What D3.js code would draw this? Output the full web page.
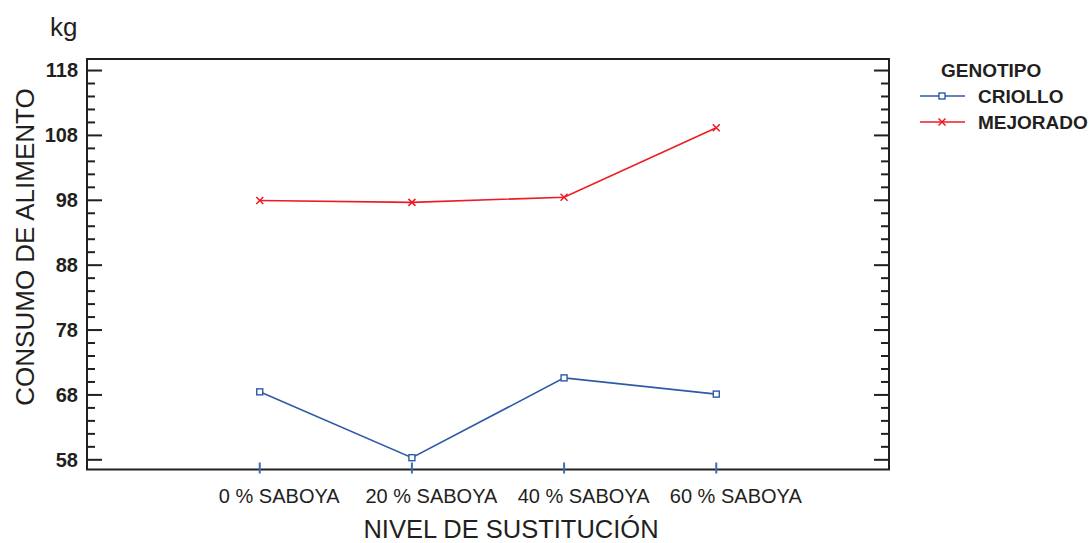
<!DOCTYPE html>
<html>
<head>
<meta charset="utf-8">
<script src="https://cdn.jsdelivr.net/npm/d3@7"></script>
<style>
  html, body { margin: 0; padding: 0; background: #fff; }
  svg text { fill: #231f20; }
</style>
</head>
<body>
<svg id="chart" width="1089" height="543"></svg>
<script>
// Niveles de sustitución (eje X)
const categories = ["0 % SABOYA", "20 % SABOYA", "40 % SABOYA", "60 % SABOYA"];
// Consumo de alimento (kg) por genotipo
const criollo  = [68.4, 58.25, 70.55, 68.05];
const mejorado = [97.9, 97.6, 98.4, 109.1];
// Ticks del eje Y
const yTicksMajor = [58, 68, 78, 88, 98, 108, 118];
const yTicksMinor = d3.range(58, 119, 2).filter(v => (v - 58) % 10 !== 0);

const seriesNames = ["CRIOLLO", "MEJORADO"];
const colors = { CRIOLLO: "#2d5aa8", MEJORADO: "#ec1c24" };
const frameColor = "#231f20";

const plotL = 87, plotR = 889, plotT = 59, plotB = 469.5;

const svg = d3.select("#chart");

const x = d3.scalePoint().domain(categories).range([plotL, plotR]).padding(1.135);
const y = d3.scaleLinear().domain([56.43, 119.7]).range([plotB, plotT]);

// Marco del gráfico
svg.append("rect")
  .attr("x", plotL).attr("y", plotT)
  .attr("width", plotR - plotL).attr("height", plotB - plotT)
  .attr("fill", "none").attr("stroke", frameColor).attr("stroke-width", 2);

// Eje Y izquierdo
const yLeft = svg.append("g").attr("transform", `translate(${plotL},0)`);
yLeft.call(d3.axisRight(y).tickValues(yTicksMajor).tickSize(15).tickFormat(""))
  .call(g => g.select(".domain").remove())
  .call(g => g.selectAll("line").attr("stroke", frameColor).attr("stroke-width", 2));
yLeft.append("g").call(d3.axisRight(y).tickValues(yTicksMinor).tickSize(8).tickFormat(""))
  .call(g => g.select(".domain").remove())
  .call(g => g.selectAll("line").attr("stroke", frameColor).attr("stroke-width", 2));
yLeft.selectAll(".ylab").data(yTicksMajor).join("text")
  .attr("class", "ylab")
  .attr("x", -9).attr("y", d => y(d))
  .attr("dy", "0.36em")
  .attr("text-anchor", "end")
  .style("font-family", "'Liberation Sans Narrow', 'Arial Narrow', 'Liberation Sans', sans-serif")
  .style("font-weight", "bold")
  .style("font-size", "20px")
  .text(d => d);

// Eje Y derecho (solo marcas)
const yRight = svg.append("g").attr("transform", `translate(${plotR},0)`);
yRight.call(d3.axisLeft(y).tickValues(yTicksMajor).tickSize(15).tickFormat(""))
  .call(g => g.select(".domain").remove())
  .call(g => g.selectAll("line").attr("stroke", frameColor).attr("stroke-width", 2));
yRight.append("g").call(d3.axisLeft(y).tickValues(yTicksMinor).tickSize(8).tickFormat(""))
  .call(g => g.select(".domain").remove())
  .call(g => g.selectAll("line").attr("stroke", frameColor).attr("stroke-width", 2));

// Eje X (etiquetas desplazadas a la derecha de cada marca)
const xAxis = svg.append("g").attr("transform", `translate(0,${plotB})`);
xAxis.call(d3.axisBottom(x).tickSize(0).tickPadding(19))
  .call(g => g.select(".domain").remove())
  .call(g => g.selectAll("text")
    .attr("dx", 19)
    .style("font-family", "'Liberation Sans', Arial, sans-serif")
    .style("font-size", "20px")
    .attr("fill", "#231f20"));
xAxis.selectAll(".xtick").data(categories).join("line")
  .attr("class", "xtick")
  .attr("x1", d => x(d)).attr("x2", d => x(d))
  .attr("y1", -7).attr("y2", 4)
  .attr("stroke", "#3d6db5").attr("stroke-width", 2);

// Títulos de ejes
svg.append("text")
  .attr("x", 511).attr("y", 538)
  .attr("text-anchor", "middle")
  .style("font-family", "'Liberation Sans', Arial, sans-serif")
  .style("font-size", "25.5px")
  .text("NIVEL DE SUSTITUCIÓN");

svg.append("text")
  .attr("transform", "translate(34,247) rotate(-90)")
  .attr("text-anchor", "middle")
  .style("font-family", "'Liberation Sans', Arial, sans-serif")
  .style("font-size", "26px")
  .text("CONSUMO DE ALIMENTO");

svg.append("text")
  .attr("x", 50).attr("y", 36)
  .style("font-family", "'Liberation Sans', Arial, sans-serif")
  .style("font-size", "26px")
  .text("kg");

// Series
const data = { CRIOLLO: criollo, MEJORADO: mejorado };
const line = d3.line().x((d, i) => x(categories[i])).y(d => y(d));

function drawMarker(g, name, cx, cy) {
  if (name === "CRIOLLO") {
    g.append("rect")
      .attr("x", cx - 3).attr("y", cy - 3)
      .attr("width", 6).attr("height", 6)
      .attr("fill", "#fff").attr("stroke", colors[name]).attr("stroke-width", 1.4);
  } else {
    g.append("path")
      .attr("d", `M${cx - 3.5},${cy - 3.5}L${cx + 3.5},${cy + 3.5}M${cx - 3.5},${cy + 3.5}L${cx + 3.5},${cy - 3.5}`)
      .attr("stroke", colors[name]).attr("stroke-width", 1.5).attr("fill", "none");
  }
}

seriesNames.forEach(name => {
  const g = svg.append("g");
  g.append("path")
    .datum(data[name])
    .attr("d", line)
    .attr("fill", "none")
    .attr("stroke", colors[name])
    .attr("stroke-width", 1.6);
  data[name].forEach((v, i) => drawMarker(g, name, x(categories[i]), y(v)));
});

// Leyenda
const legend = svg.append("g");
legend.append("text")
  .attr("x", 941).attr("y", 77)
  .style("font-family", "'Liberation Sans Narrow', 'Arial Narrow', 'Liberation Sans', sans-serif")
  .style("font-weight", "bold")
  .style("font-size", "19px")
  .text("GENOTIPO");
seriesNames.forEach((name, i) => {
  const ly = 96 + i * 26;
  legend.append("line")
    .attr("x1", 920).attr("x2", 965).attr("y1", ly).attr("y2", ly)
    .attr("stroke", colors[name]).attr("stroke-width", 1.6);
  drawMarker(legend, name, 942, ly);
  legend.append("text")
    .attr("x", 978).attr("y", ly + 7)
    .style("font-family", "'Liberation Sans Narrow', 'Arial Narrow', 'Liberation Sans', sans-serif")
    .style("font-weight", "bold")
    .style("font-size", "19px")
    .text(name);
});
</script>
</body>
</html>
